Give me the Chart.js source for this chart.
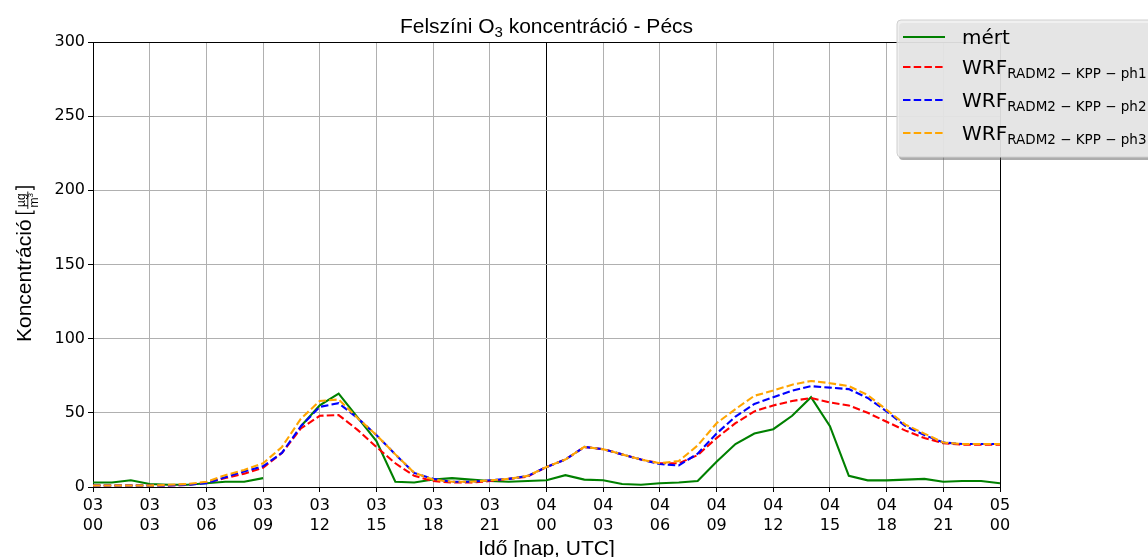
<!DOCTYPE html>
<html>
<head>
<meta charset="utf-8">
<script src="https://cdn.jsdelivr.net/npm/chart.js@4"></script>
<style>
  html, body { margin: 0; padding: 0; background: #fff; }
  #wrap { width: 1148px; height: 557px; position: relative; }
</style>
</head>
<body>
<div id="wrap"><canvas id="o3Chart" width="1148" height="557"></canvas></div>
<script>
// --- data (hourly, 03 00 UTC -> 05 00 UTC) ---
const xTickLabels = [
    ['03', '00'], ['03', '03'], ['03', '06'], ['03', '09'], ['03', '12'], ['03', '15'],
    ['03', '18'], ['03', '21'], ['04', '00'], ['04', '03'], ['04', '06'], ['04', '09'],
    ['04', '12'], ['04', '15'], ['04', '18'], ['04', '21'], ['05', '00']
];
const seriesNames = ['mért', 'RADM2 \u2212 KPP \u2212 ph1', 'RADM2 \u2212 KPP \u2212 ph2', 'RADM2 \u2212 KPP \u2212 ph3'];

const measured = [3, 3, 4.5, 2, 1.5, 1.5, 2.5, 3.5, 3.5, 6, null, 41, 55, 63, 47, 31, 3.5, 3, 5, 6, 5, 4, 3.5, 4,
    4.5, 8, 5, 4.5, 2, 1.5, 2.5, 3, 4, 17, 29, 36, 39, 48, 60.5, 41, 7.5, 4.5, 4.5, 5, 5.5, 3.5, 4, 4, 2.5];
const ph1 = [1, 1, 1, 1, 1, 1.5, 3, 6, 9, 13, 23, 39.5, 48, 48.5, 38.5, 27, 16, 7.5, 4, 3, 3, 4, 5.5, 7,
    13.5, 18.5, 27, 25.5, 22, 18.5, 16, 16, 21.5, 33, 43, 51, 55, 58, 60, 57, 55, 50, 44, 38, 33, 29.5, 28.5, 28.5, 28.5];
const ph2 = [1, 1, 1, 1, 1, 1.5, 2.5, 6.5, 10.5, 14, 23, 41, 54, 56.5, 46.5, 35, 22, 9.5, 5.5, 3.5, 3.5, 4.5, 5.5, 7.5,
    13.5, 18.5, 27, 25.5, 22, 18.5, 15.5, 14.5, 22.5, 36, 47.5, 56, 60.5, 65, 68, 67, 66, 60, 51, 41, 35, 30, 29, 29, 29];
const ph3 = [1, 1, 1, 1, 1.5, 2, 3.5, 8, 11.5, 16, 27, 46, 58, 59, 46.5, 35, 22, 9.5, 5, 3.5, 3.5, 4.5, 5.5, 7.5,
    13.5, 18.5, 27, 25.5, 22, 18.5, 16, 17.5, 28, 43, 52.5, 61.5, 65, 69, 71.5, 70, 68, 62, 52, 42, 36, 30, 29, 29, 29];

const colors = ['#008000', '#ff0000', '#0000ff', '#ffa500'];
const FONT = '"DejaVu Sans", sans-serif';
const LABEL_FONT = '"Liberation Sans", Arial, sans-serif';

const toPoints = arr => arr.map((v, i) => ({ x: i, y: v }));

// text with subscript helper, returns end x
function drawSub(ctx, x, y, main, sub, mainFont, subFont, drop) {
    ctx.font = mainFont;
    ctx.fillText(main, x, y);
    x += ctx.measureText(main).width;
    ctx.font = subFont;
    ctx.fillText(sub, x, y + drop);
    return x + ctx.measureText(sub).width;
}

const decorPlugin = {
    id: 'decor',
    afterDraw(chart) {
        const ctx = chart.ctx;
        const area = chart.chartArea;
        const midX = (area.left + area.right) / 2;
        ctx.save();
        ctx.fillStyle = '#000';
        ctx.textBaseline = 'alphabetic';
        ctx.textAlign = 'left';

        // title with O3 subscript
        const tMain = '21px ' + LABEL_FONT, tSub = '15px ' + LABEL_FONT;
        const t1 = 'Felszíni O', t3 = ' koncentráció - Pécs';
        ctx.font = tMain;
        const w1 = ctx.measureText(t1).width, w3 = ctx.measureText(t3).width;
        ctx.font = tSub;
        const w2 = ctx.measureText('3').width;
        let tx = midX - (w1 + w2 + w3) / 2;
        tx = drawSub(ctx, tx, 33, t1, '3', tMain, tSub, 4);
        ctx.font = tMain;
        ctx.fillText(t3, tx, 33);

        // x axis title
        ctx.font = '21px ' + LABEL_FONT;
        ctx.textAlign = 'center';
        ctx.fillText('Idő [nap, UTC]', midX, 555);

        // y axis title with fraction [µg / m3]
        ctx.save();
        ctx.translate(31, 264);
        ctx.rotate(-Math.PI / 2);
        ctx.textAlign = 'left';
        ctx.font = '21px ' + LABEL_FONT;
        const lbl = 'Koncentráció';
        const wl = ctx.measureText(lbl).width;
        ctx.font = '12px ' + LABEL_FONT;
        const wNum = ctx.measureText('µg').width;
        const wM = ctx.measureText('m').width;
        ctx.font = '8px ' + LABEL_FONT;
        const w3s = ctx.measureText('3').width;
        const wf = Math.max(wNum, wM + w3s) + 4;
        const total = wl + 5 + 5 + wf + 5;
        let x0 = -total / 2;
        ctx.font = '21px ' + LABEL_FONT;
        ctx.fillText(lbl, x0, 0);
        x0 += wl + 5;
        ctx.strokeStyle = '#000';
        ctx.lineWidth = 1.3;
        ctx.beginPath();
        ctx.moveTo(x0 + 4, -15); ctx.lineTo(x0 + 1, -15); ctx.lineTo(x0 + 1, 3); ctx.lineTo(x0 + 4, 3);
        ctx.stroke();
        x0 += 5;
        ctx.font = '12px ' + LABEL_FONT;
        ctx.fillText('µg', x0 + (wf - wNum) / 2, -6);
        const mx = x0 + (wf - wM - w3s) / 2;
        ctx.fillText('m', mx, 6.5);
        ctx.font = '8px ' + LABEL_FONT;
        ctx.fillText('3', mx + wM, 2);
        ctx.lineWidth = 0.9;
        ctx.beginPath();
        ctx.moveTo(x0 + 0.5, -3.2); ctx.lineTo(x0 + wf - 0.5, -3.2);
        ctx.stroke();
        x0 += wf;
        ctx.lineWidth = 1.3;
        ctx.beginPath();
        ctx.moveTo(x0 + 1, -15); ctx.lineTo(x0 + 4, -15); ctx.lineTo(x0 + 4, 3); ctx.lineTo(x0 + 1, 3);
        ctx.stroke();
        ctx.restore();

        // legend box
        const bx = 897, by = 20, bw = 270, bh = 137;
        ctx.fillStyle = 'rgba(90,90,90,0.5)';
        ctx.beginPath();
        ctx.roundRect(bx + 2, by + 3, bw, bh, 4);
        ctx.fill();
        ctx.fillStyle = 'rgba(238,238,238,0.88)';
        ctx.strokeStyle = '#d0d0d0';
        ctx.lineWidth = 1;
        ctx.beginPath();
        ctx.roundRect(bx, by, bw, bh, 4);
        ctx.fill();
        ctx.stroke();

        const rowY = [37, 67, 100, 133];
        seriesNames.forEach((name, i) => {
            ctx.strokeStyle = colors[i];
            ctx.lineWidth = 2;
            ctx.setLineDash(i === 0 ? [] : [7.5, 3.2]);
            ctx.beginPath();
            ctx.moveTo(903, rowY[i]);
            ctx.lineTo(945, rowY[i]);
            ctx.stroke();
            ctx.setLineDash([]);
            ctx.fillStyle = '#000';
            ctx.textAlign = 'left';
            if (i === 0) {
                ctx.font = '20px ' + FONT;
                ctx.fillText(name, 962, rowY[i] + 7);
            } else {
                drawSub(ctx, 962, rowY[i] + 7, 'WRF', name, '20px ' + FONT, '13.5px ' + FONT, 4);
            }
        });
        ctx.restore();
    }
};

const gridColor = ctx => {
    const v = ctx.tick ? ctx.tick.value : null;
    return (v === 24 || v === 48) ? '#000' : '#b0b0b0';
};

new Chart(document.getElementById('o3Chart'), {
    type: 'line',
    data: {
        datasets: [measured, ph1, ph2, ph3].map((arr, i) => ({
            label: seriesNames[i],
            data: toPoints(arr),
            borderColor: colors[i],
            backgroundColor: colors[i],
            borderWidth: 2.1,
            borderDash: i === 0 ? [] : [7.5, 3.2],
            pointRadius: 0,
            tension: 0,
            spanGaps: false,
            order: 3 - i
        }))
    },
    options: {
        responsive: false,
        animation: false,
        layout: { padding: { top: 42, right: 148, bottom: 0, left: 0 } },
        plugins: { legend: { display: false }, title: { display: false }, tooltip: { enabled: false } },
        scales: {
            x: {
                type: 'linear',
                min: 0, max: 48,
                afterFit: s => { s.height = 70; },
                grid: { color: gridColor, lineWidth: 1, tickLength: 5, tickColor: '#000' },
                border: { color: '#000', width: 1 },
                ticks: {
                    stepSize: 3, autoSkip: false, maxRotation: 0, padding: 4,
                    color: '#000',
                    font: { family: FONT, size: 16, lineHeight: 1.25 },
                    callback: v => xTickLabels[v / 3]
                }
            },
            y: {
                min: 0, max: 300,
                afterFit: s => { s.width = 93; },
                grid: {
                    color: ctx => (ctx.tick && ctx.tick.value === 300) ? '#000' : '#b0b0b0',
                    lineWidth: 1, tickLength: 5, tickColor: '#000'
                },
                border: { color: '#000', width: 1 },
                ticks: {
                    stepSize: 50, padding: 3, color: '#000',
                    font: { family: FONT, size: 16 }
                }
            }
        }
    },
    plugins: [decorPlugin]
});
</script>
</body>
</html>
